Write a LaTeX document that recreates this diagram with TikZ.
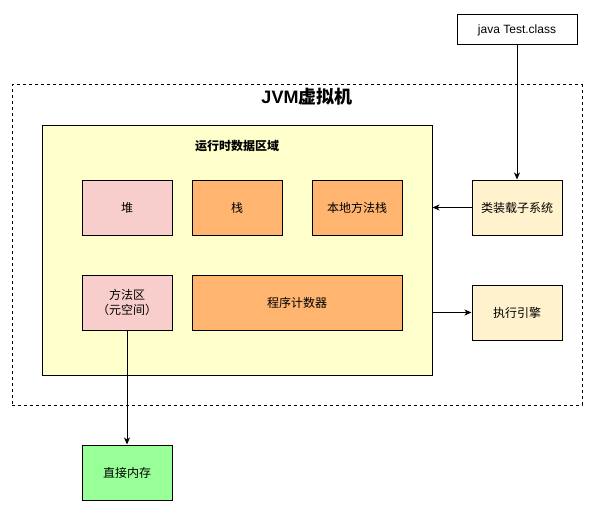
\documentclass[tikz,border=0pt]{standalone}
\usepackage{fontspec}
\setmainfont{Liberation Sans}
\newfontfamily\cjk{Noto Sans CJK SC}
\usetikzlibrary{arrows.meta}
\definecolor{runyellow}{HTML}{FFFFCC}
\definecolor{heappink}{HTML}{F8CECC}
\definecolor{stackorange}{HTML}{FFB570}
\definecolor{sidecream}{HTML}{FFF2CC}
\definecolor{memgreen}{HTML}{99FF99}
\begin{document}
\begin{tikzpicture}[x=1pt,y=-1pt,
  box/.style={draw=black, line width=1pt, inner sep=0pt, align=center,
    font=\cjk\fontsize{12}{15}\selectfont, minimum width=90pt, minimum height=55pt},
  conn/.style={line width=1pt, -{Stealth[length=7pt,width=6pt,inset=2pt]}}]
\useasboundingbox (0,0) rectangle (608,519);
% outer JVM frame
\node[draw=black, dash pattern=on 3pt off 3pt, line width=1pt, inner sep=0pt,
  minimum width=570pt, minimum height=320pt] (jvm) at (297,245) {};
\node[font=\bfseries\fontsize{18}{20}\selectfont] (jvmtitle) at (307,97) {JVM{\cjk\bfseries 虚拟机}};
% runtime data area
\node[draw=black, fill=runyellow, line width=1pt, inner sep=0pt,
  minimum width=390pt, minimum height=250pt] (runtime) at (237,250) {};
\node[font=\cjk\bfseries\fontsize{12}{15}\selectfont] (rttitle) at (237,146.5) {运行时数据区域};
\node[box, fill=heappink] (heap) at (127,207.5) {堆};
\node[box, fill=stackorange] (stack) at (237,207.5) {栈};
\node[box, fill=stackorange] (native) at (357,207.5) {本地方法栈};
\node[box, fill=heappink] (method) at (127,302.5) {方法区\\（元空间）};
\node[box, fill=stackorange, minimum width=210pt] (pc) at (297,302.5) {程序计数器};
% side boxes
\node[box, fill=sidecream] (loader) at (517,207.5) {类装载子系统};
\node[box, fill=sidecream] (engine) at (517,312.5) {执行引擎};
\node[box, fill=memgreen] (direct) at (127,472.5) {直接内存};
\node[box, fill=white, minimum width=120pt, minimum height=30pt,
  font=\fontsize{12}{15}\selectfont] (java) at (517,30) {java Test.class};
% connectors
\draw[conn] (java) -- (loader);
\draw[conn] (loader) -- (loader -| runtime.east);
\draw[conn] (runtime.east |- engine) -- (engine);
\draw[conn] (method) -- (direct);
\end{tikzpicture}
\end{document}
